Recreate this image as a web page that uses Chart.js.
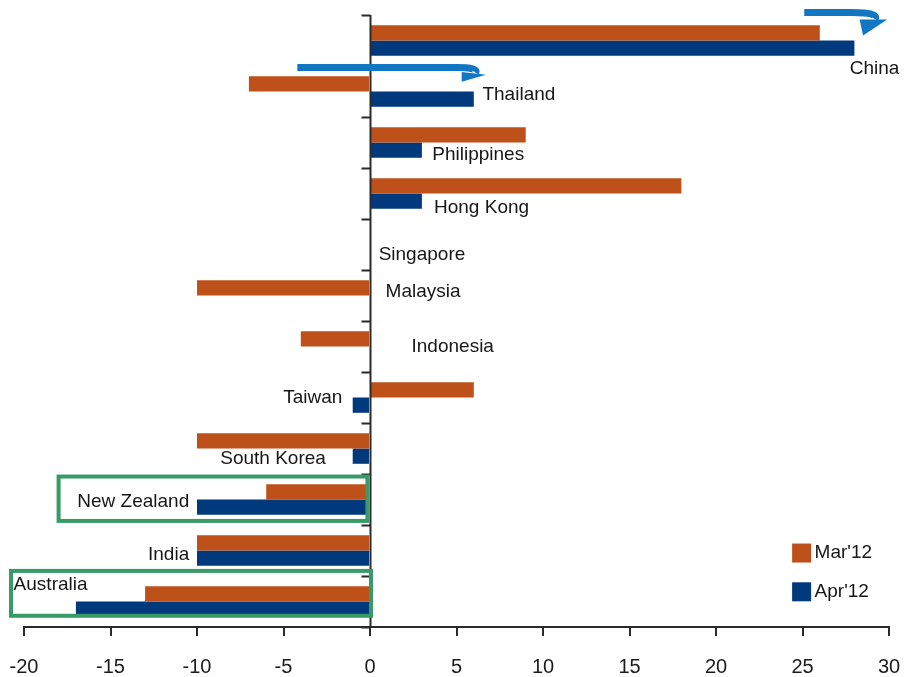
<!DOCTYPE html>
<html>
<head>
<meta charset="utf-8">
<script src="https://cdn.jsdelivr.net/npm/chart.js@4.4.1/dist/chart.umd.min.js"></script>
<style>
  html, body { margin: 0; padding: 0; background: #fff; }
  #wrap { width: 906px; height: 677px; }
</style>
</head>
<body>
<div id="wrap"><canvas id="flows-chart"></canvas></div>
<script>
var categories = ['China', 'Thailand', 'Philippines', 'Hong Kong', 'Singapore', 'Malaysia',
                  'Indonesia', 'Taiwan', 'South Korea', 'New Zealand', 'India', 'Australia'];
var mar12 = [26, -7, 9, 18, 0, -10, -4, 6, -10, -6, -10, -13];
var apr12 = [28, 6, 3, 3, 0, 0, 0, -1, -1, -10, -10, -17];
var xTicks = [-20, -15, -10, -5, 0, 5, 10, 15, 20, 25, 30];

var orange = '#BE5019';
var navy = '#003A7C';
var green = '#389A66';
var arrowBlue = '#1177C2';

// where each country name sits: x in axis units, dy in fractions of a category band
var labelSpots = [
    { x: 30.6, dy: 0.55, align: 'right' },
    { x: 6.5, dy: 0.06, align: 'left' },
    { x: 3.6, dy: 0.24, align: 'left' },
    { x: 3.7, dy: 0.27, align: 'left' },
    { x: 0.5, dy: 0.21, align: 'left' },
    { x: 0.9, dy: -0.08, align: 'left' },
    { x: 2.4, dy: 0.0, align: 'left' },
    { x: -1.6, dy: 0.0, align: 'right' },
    { x: -2.55, dy: 0.21, align: 'right' },
    { x: -10.45, dy: 0.05, align: 'right' },
    { x: -10.45, dy: 0.08, align: 'right' },
    { x: -20.6, dy: -0.33, align: 'left' }
];

var overlay = {
    id: 'overlay',
    afterDatasetsDraw: function (chart) {
        var ctx = chart.ctx;
        var xs = chart.scales.x, ys = chart.scales.y;
        var band = ys.getPixelForValue(1) - ys.getPixelForValue(0);
        var px = function (v) { return xs.getPixelForValue(v); };
        var py = function (i, d) { return ys.getPixelForValue(i) + d * band; };
        var zero = Math.round(px(0)) + 0.5;
        var top = chart.chartArea.top, bottom = chart.chartArea.bottom;

        ctx.save();
        // vertical axis through zero with ticks between countries
        ctx.strokeStyle = '#2b2b2b';
        ctx.lineWidth = 2;
        ctx.beginPath();
        ctx.moveTo(zero, top);
        ctx.lineTo(zero, bottom);
        for (var i = 0; i <= categories.length; i++) {
            var ty = Math.round(py(i, -0.5)) + 0.5;
            ctx.moveTo(zero, ty);
            ctx.lineTo(zero - 9, ty);
        }
        ctx.stroke();

        // country names
        ctx.font = '19px "Liberation Sans", Arial, sans-serif';
        ctx.fillStyle = '#161616';
        ctx.textBaseline = 'middle';
        categories.forEach(function (name, i) {
            var s = labelSpots[i];
            ctx.textAlign = s.align;
            ctx.fillText(name, px(s.x), py(i, s.dy));
        });

        // legend
        var legendItems = [['Mar\'12', orange, 10, 0.04], ['Apr\'12', navy, 10, 0.8]];
        legendItems.forEach(function (it) {
            var sy = py(it[2], it[3]);
            ctx.fillStyle = it[1];
            ctx.fillRect(px(24.4), sy - 9, 19, 19);
            ctx.fillStyle = '#161616';
            ctx.textAlign = 'left';
            ctx.fillText(it[0], px(25.7), sy);
        });

        // curved arrows (China, Thailand)
        function arrow(x0, y0, x1, cx, cy, x2, y2, head) {
            ctx.strokeStyle = arrowBlue;
            ctx.fillStyle = arrowBlue;
            ctx.lineWidth = 7;
            ctx.lineCap = 'butt';
            ctx.beginPath();
            ctx.moveTo(x0, y0);
            ctx.lineTo(x1, y0);
            ctx.quadraticCurveTo(cx, cy, x2, y2);
            ctx.stroke();
            ctx.beginPath();
            ctx.moveTo(head[0][0], head[0][1]);
            ctx.lineTo(head[1][0], head[1][1]);
            ctx.lineTo(head[2][0], head[2][1]);
            ctx.closePath();
            ctx.fill();
        }
        arrow(px(25.1), py(0, -0.55), px(27.9), px(29.4), py(0, -0.55), px(29.2), py(0, -0.42),
              [[px(28.3), py(0, -0.41)], [px(29.9), py(0, -0.41)], [px(28.5), py(0, -0.10)]]);
        arrow(px(-4.2), py(1, -0.47), px(5.0), px(6.3), py(1, -0.47), px(6.1), py(1, -0.37),
              [[px(5.3), py(1, -0.38)], [px(6.7), py(1, -0.33)], [px(5.3), py(1, -0.19)]]);

        // highlight boxes
        ctx.strokeStyle = green;
        ctx.lineWidth = 4;
        ctx.strokeRect(px(-18.0), py(9, -0.45), px(-0.15) - px(-18.0), py(9, 0.42) - py(9, -0.45));
        ctx.strokeRect(px(-20.75), py(11, -0.6), px(0.06) - px(-20.75), py(11, 0.28) - py(11, -0.6));
        ctx.restore();
    }
};

var flowsChart = new Chart(document.querySelector('#flows-chart'), {
    type: 'bar',
    data: {
        labels: categories,
        datasets: [
            { label: 'Mar\'12', data: mar12, backgroundColor: orange, borderWidth: 0 },
            { label: 'Apr\'12', data: apr12, backgroundColor: navy, borderWidth: 0 }
        ]
    },
    options: {
        indexAxis: 'y',
        responsive: true,
        maintainAspectRatio: false,
        animation: false,
        datasets: {
            bar: { categoryPercentage: 0.6, barPercentage: 1.0 }
        },
        layout: {
            padding: { top: 15, left: 24, right: 17, bottom: 0 }
        },
        plugins: {
            legend: { display: false },
            tooltip: { enabled: false }
        },
        scales: {
            x: {
                min: -20,
                max: 30,
                afterBuildTicks: function (axis) {
                    axis.ticks = xTicks.map(function (v) { return { value: v }; });
                },
                afterFit: function (axis) {
                    axis.height = 50;
                    axis.paddingLeft = 0;
                    axis.paddingRight = 0;
                },
                border: { display: true, color: '#2b2b2b', width: 2 },
                grid: { drawOnChartArea: false, drawTicks: true, tickLength: 9, color: '#2b2b2b', lineWidth: 2 },
                ticks: {
                    padding: 21,
                    color: '#1a1a1a',
                    maxRotation: 0,
                    font: { family: '"Liberation Sans", Arial, sans-serif', size: 20, lineHeight: 1 }
                }
            },
            y: {
                display: false,
                offset: true
            }
        }
    },
    plugins: [overlay]
});
</script>
</body>
</html>
